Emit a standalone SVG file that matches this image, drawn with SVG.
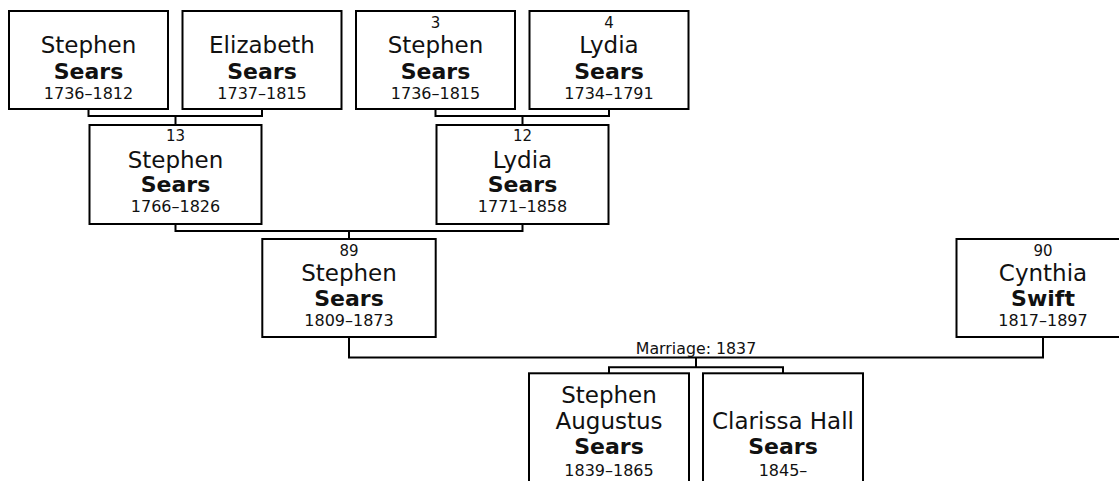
<svg xmlns="http://www.w3.org/2000/svg" width="1119" height="481" viewBox="0 0 1119 481">
<style>
rect.box{fill:#fff;stroke:#000;stroke-width:2}
.conn path{fill:none;stroke:#000;stroke-width:2}
text{font-family:"DejaVu Sans",Verdana,sans-serif;fill:#111;text-anchor:middle}
.num{font-size:15px}
.nm{font-size:23px}
.sn{font-size:22px;font-weight:bold}
.dt{font-size:16px}
.lbl{font-size:15.8px}
</style>
<rect width="1119" height="481" fill="#fff"/>
<g class="conn" id="connectors">
<path d="M88.5,109 V116 H262 V109 M175.5,116 V125"/>
<path d="M435.5,109 V116 H609 V109 M522.5,116 V125"/>
<path d="M175.5,224 V231 H522.5 V224 M349,231 V239"/>
<path d="M349,337 V357.5 H1043 V337"/>
<path d="M696,357.5 V367.3 M609,373.3 V367.3 H783 V373.3"/>
<text class="lbl" x="696" y="354">Marriage: 1837</text>
</g>
<g id="n1">
<rect class="box" x="9" y="11" width="159" height="98"/>
<text class="nm" x="88.5" y="53">Stephen</text>
<text class="sn" x="88.5" y="79">Sears</text>
<text class="dt" x="88.5" y="98.7">1736–1812</text>
</g>
<g id="n2">
<rect class="box" x="182.5" y="11" width="159" height="98"/>
<text class="nm" x="262" y="53">Elizabeth</text>
<text class="sn" x="262" y="79">Sears</text>
<text class="dt" x="262" y="98.7">1737–1815</text>
</g>
<g id="n3">
<rect class="box" x="356" y="11" width="159" height="98"/>
<text class="num" x="435.5" y="27.5">3</text>
<text class="nm" x="435.5" y="53">Stephen</text>
<text class="sn" x="435.5" y="79">Sears</text>
<text class="dt" x="435.5" y="98.7">1736–1815</text>
</g>
<g id="n4">
<rect class="box" x="529.5" y="11" width="159" height="98"/>
<text class="num" x="609" y="27.5">4</text>
<text class="nm" x="609" y="53">Lydia</text>
<text class="sn" x="609" y="79">Sears</text>
<text class="dt" x="609" y="98.7">1734–1791</text>
</g>
<g id="n13">
<rect class="box" x="89.5" y="125" width="172" height="99"/>
<text class="num" x="175.5" y="141">13</text>
<text class="nm" x="175.5" y="167.5">Stephen</text>
<text class="sn" x="175.5" y="192.3">Sears</text>
<text class="dt" x="175.5" y="212.3">1766–1826</text>
</g>
<g id="n12">
<rect class="box" x="436.5" y="125" width="172" height="99"/>
<text class="num" x="522.5" y="141">12</text>
<text class="nm" x="522.5" y="167.5">Lydia</text>
<text class="sn" x="522.5" y="192.3">Sears</text>
<text class="dt" x="522.5" y="212.3">1771–1858</text>
</g>
<g id="n89">
<rect class="box" x="262.3" y="239" width="173.4" height="98"/>
<text class="num" x="349" y="256">89</text>
<text class="nm" x="349" y="281">Stephen</text>
<text class="sn" x="349" y="305.5">Sears</text>
<text class="dt" x="349" y="325.5">1809–1873</text>
</g>
<g id="n90">
<rect class="box" x="956.5" y="239" width="173" height="98"/>
<text class="num" x="1043" y="256">90</text>
<text class="nm" x="1043" y="281">Cynthia</text>
<text class="sn" x="1043" y="305.5">Swift</text>
<text class="dt" x="1043" y="325.5">1817–1897</text>
</g>
<g id="c1">
<rect class="box" x="529" y="373.3" width="160" height="130"/>
<text class="nm" x="609" y="402.7">Stephen</text>
<text class="nm" x="609" y="429.3">Augustus</text>
<text class="sn" x="609" y="454.3">Sears</text>
<text class="dt" x="609" y="475.7">1839–1865</text>
</g>
<g id="c2">
<rect class="box" x="703" y="373.3" width="160" height="130"/>
<text class="nm" x="783" y="429.3">Clarissa Hall</text>
<text class="sn" x="783" y="454.3">Sears</text>
<text class="dt" x="783" y="475.7">1845–</text>
</g>
</svg>
